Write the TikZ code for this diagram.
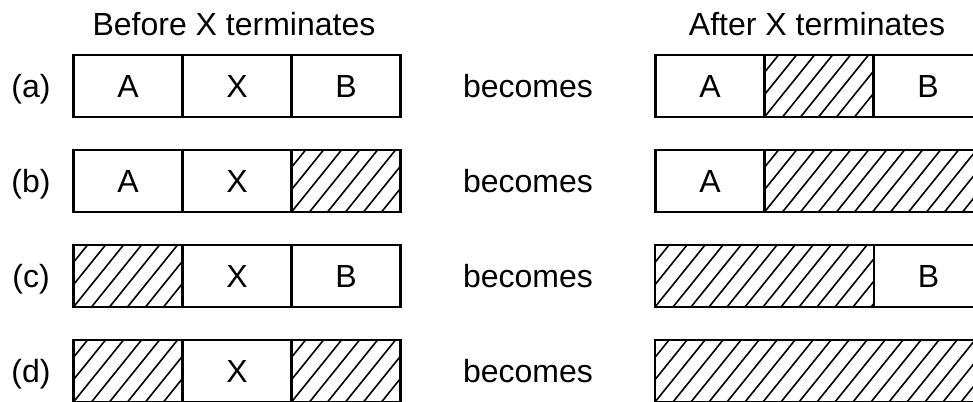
\documentclass[tikz,border=0pt]{standalone}
\usepackage{fontspec}
\setmainfont{Liberation Sans}
\usetikzlibrary{positioning}

\tikzset{
  txt/.style={font=\fontsize{32}{38}\selectfont},
  lab/.style={txt, anchor=base},
  cell/.style={draw, txt, line width=2.6pt, minimum width=109pt, minimum height=62pt,
    inner sep=0pt, outer sep=0pt},
  hole/.style={cell, path picture={
      \foreach \k in {-3,...,19}
        \draw[line width=1.6pt] ([xshift=\k*18pt]path picture bounding box.south west) -- ++(50pt,62pt);
    }},
}

\begin{document}
\begin{tikzpicture}[x=1pt,y=1pt]
    \useasboundingbox (0,0) rectangle (973,401);

    \node[lab] (before) at (234,365) {Before X terminates};
    \node[lab] (after) at (817,365) {After X terminates};

    % (a)
    \node[lab] (la) at (31,303) {(a)};
    \node[cell] (a1) at (128,315) {A};
    \node[cell, right=0pt of a1] (a2) {X};
    \node[cell, right=0pt of a2] (a3) {B};
    \node[lab] (ba) at (528,303) {becomes};
    \node[cell] (ra1) at (710,315) {A};
    \node[hole, right=0pt of ra1] (ra2) {};
    \node[cell, right=0pt of ra2] (ra3) {B};

    % (b)
    \node[lab] (lb) at (31,208) {(b)};
    \node[cell] (b1) at (128,220) {A};
    \node[cell, right=0pt of b1] (b2) {X};
    \node[hole, right=0pt of b2] (b3) {};
    \node[lab] (bb) at (528,208) {becomes};
    \node[cell] (rb1) at (710,220) {A};
    \node[hole, minimum width=218pt, right=0pt of rb1] (rb2) {};

    % (c)
    \node[lab] (lc) at (31,113) {(c)};
    \node[hole] (c1) at (128,125) {};
    \node[cell, right=0pt of c1] (c2) {X};
    \node[cell, right=0pt of c2] (c3) {B};
    \node[lab] (bc) at (528,113) {becomes};
    \node[hole, minimum width=219pt] (rc1) at (764.5,125) {};
    \node[cell, right=0pt of rc1] (rc2) {B};

    % (d)
    \node[lab] (ld) at (31,18) {(d)};
    \node[hole] (d1) at (128,30) {};
    \node[cell, right=0pt of d1] (d2) {X};
    \node[hole, right=0pt of d2] (d3) {};
    \node[lab] (bd) at (528,18) {becomes};
    \node[hole, minimum width=328pt] (rd1) at (819,30) {};
\end{tikzpicture}
\end{document}
